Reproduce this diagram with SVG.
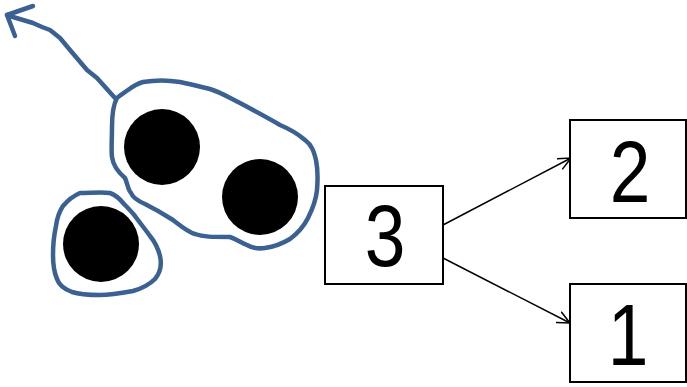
<svg xmlns="http://www.w3.org/2000/svg" width="687" height="387" viewBox="0 0 687 387">
<defs>
<style>
.blob{fill:none;stroke:#3b6192;stroke-width:4.5;stroke-linecap:round;stroke-linejoin:round}
.dot{fill:#000}
.box{fill:#fff;stroke:#000;stroke-width:2}
.lbl{font-family:"Liberation Sans",Arial,sans-serif;font-size:86px;fill:#000;text-anchor:middle}
.conn{fill:none;stroke:#000;stroke-width:1.5}
</style>
<marker id="arr" viewBox="0 0 14 14" refX="13" refY="7" markerWidth="14" markerHeight="14" markerUnits="userSpaceOnUse" orient="auto">
<path d="M0,1 L13,7 L0,13" fill="none" stroke="#000" stroke-width="1.5"/>
</marker>
</defs>
<rect width="687" height="387" fill="#fff"/>
<g id="group-big">
<path class="blob" d="M117,98 C113,105 112,115 112,127 C112,140 111,150 112,157 C113,165 118,172 125,178 C128,185 128,190 131,193 C133,198 138,201 145,204 C153,208 162,213 173,220 C182,227 188,232 195,234 C203,237 212,237 230,237 C236,239 240,242 247,245 C252,248 258,249 265,248 C272,247 280,245 290,239 C298,233 304,226 308,218 C313,208 316,200 317,190 C318,178 318,170 316,160 C314,152 312,145 305,140 C298,134 292,130 280,125 C268,118 255,111 240,103 C228,97 220,92 210,89 C198,86 190,84 180,82 C168,80 155,80 143,82 C136,84 132,87 128,90 C124,93 120,95 117,98"/>
<path class="blob" d="M115,98 L97,78 L87,70 L70,50 L60,38 L50,30 L42,27 L33,23 L13,17 L7,15"/>
<path class="blob" d="M33,6 L7,15 L15,36"/>
<circle class="dot" cx="162" cy="147" r="38"/>
<circle class="dot" cx="260" cy="197" r="38"/>
</g>
<g id="group-small">
<path class="blob" d="M80,193 C90,193 102,192 110,193 C116,195 120,199 124,204 C128,208 131,211 135,216 C140,223 145,229 150,236 C155,242 158,248 160,256 C162,265 160,273 155,279 C148,286 140,289 133,291 C122,293 110,295 100,295 C88,295 78,294 72,292 C64,289 59,285 57,279 C54,272 53,265 53,255 C53,245 54,235 56,226 C57,218 59,212 63,206 C68,200 73,196 80,193"/>
<circle class="dot" cx="101" cy="244" r="38"/>
</g>
<g id="connectors">
<path class="conn" d="M443,225 L571,158" marker-end="url(#arr)"/>
<path class="conn" d="M443,258 L570,323" marker-end="url(#arr)"/>
</g>
<g id="node-3">
<rect class="box" x="325" y="186" width="118" height="98"/>
<text class="lbl" transform="translate(385,266) scale(0.85,1.02)">3</text>
</g>
<g id="node-2">
<rect class="box" x="570" y="120" width="116" height="98"/>
<text class="lbl" transform="translate(630,202) scale(0.85,1.02)">2</text>
</g>
<g id="node-1">
<rect class="box" x="570" y="284" width="116" height="98"/>
<text class="lbl" transform="translate(628,365) scale(0.85,1.02)">1</text>
</g>
</svg>
